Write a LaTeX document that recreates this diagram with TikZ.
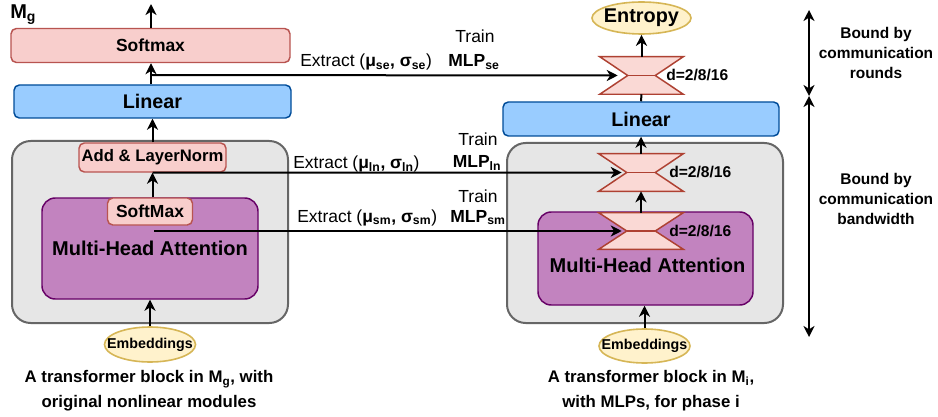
\documentclass[tikz,border=0pt]{standalone}
\usepackage{fontspec}
\setmainfont{Liberation Sans}
\usetikzlibrary{arrows.meta,calc,shapes.geometric}
\newcommand\pxu{0.75pt}
\definecolor{redfill}{HTML}{F8CECC}
\definecolor{redline}{HTML}{B85450}
\definecolor{bluefill}{HTML}{99CCFF}
\definecolor{blueline}{HTML}{004C99}
\definecolor{greyfill}{HTML}{E6E6E6}
\definecolor{greyline}{HTML}{666666}
\definecolor{purpfill}{HTML}{C283BF}
\definecolor{purpline}{HTML}{660066}
\definecolor{yelfill}{HTML}{FFF2CC}
\definecolor{yelline}{HTML}{D6B656}
\definecolor{hgfill}{HTML}{FAD9D5}
\definecolor{hgline}{HTML}{AE4132}
\newcommand\hglass[1]{%
  \draw[hg] (#1.north west) -- (#1.north east) -- ($(#1.east)+(-28,0)$) -- (#1.south east)
     -- (#1.south west) -- ($(#1.west)+(28,0)$) -- cycle;
  \draw[hg] ($(#1.west)+(28,0)$) -- ($(#1.east)+(-28,0)$);}
\tikzset{
  sz/.style 2 args={minimum width=#1*\pxu, minimum height=#2*\pxu},
  fsz/.style={font=\fontsize{#1}{#1}\selectfont\bfseries},
  basebox/.style={draw, line width=1.1pt, rounded corners=4pt, inner sep=0pt, align=center},
  redbox/.style={basebox, fill=redfill, draw=redline},
  bluebox/.style={basebox, fill=bluefill, draw=blueline},
  greybox/.style={draw=greyline, fill=greyfill, line width=1.5pt, rounded corners=14pt, inner sep=0pt},
  purpbox/.style={basebox, fill=purpfill, draw=purpline, rounded corners=10pt},
  yelell/.style={ellipse, draw=yelline, fill=yelfill, line width=1.2pt, inner sep=0pt},
  hgbox/.style={inner sep=0pt},
  hg/.style={fill=hgfill, draw=hgline, line width=1.1pt, line join=miter},
  tipk/.tip={Stealth[length=8.3pt,width=8.3pt,inset=2.6pt]},
  arr/.style={-tipk, line width=1.5pt},
  darr/.style={tipk-tipk, line width=1.5pt},
  lbl/.style={inner sep=0pt, font=\fontsize{13.1pt}{13.1pt}\selectfont},
  dlbl/.style={inner sep=0pt, anchor=west, font=\fontsize{11.7pt}{11.7pt}\selectfont\bfseries},
  capt/.style={inner sep=0pt, align=center, font=\fontsize{12.6pt}{18.75pt}\selectfont\bfseries},
  bnd/.style={inner sep=0pt, align=center, font=\fontsize{11.6pt}{15pt}\selectfont\bfseries},
}
\begin{document}
\begin{tikzpicture}[x=0.75pt, y=-0.75pt]
\path[use as bounding box, fill=white] (0,0) rectangle (938,417);

% ---------- left column ----------
\node[greybox, sz={276}{182}] (greyL) at (150,232) {};
\node[redbox, sz={279}{34}, fsz=13.1pt] (softL) at (150.5,45.5) {Softmax};
\node[bluebox, sz={277}{33}, fsz=14.8pt] (linL) at (152.5,101.5) {Linear};
\node[redbox, sz={147}{29}, fsz=12.5pt] (addL) at (152.5,157.5) {Add \& LayerNorm};
\node[purpbox, sz={216}{101}, fsz=15pt] (mhaL) at (150,248.5) {Multi-Head Attention};
\node[redbox, sz={85}{27}, fsz=13.1pt] (smL) at (150,211.5) {SoftMax};
\node[yelell, sz={91}{35}, fsz=10.7pt] (embL) at (150,344.5) {\makebox[0pt]{Embeddings}};
\node[inner sep=0pt, anchor=base west, fsz=15pt] (mg) at (10,19) {M\textsubscript{g}};
\node[capt] (capL) at (149,391) {A transformer block in M\textsubscript{g}, with\\original nonlinear modules};

\coordinate (topL) at (151,4);
\coordinate (xse) at (151,75);
\coordinate (xsm) at (154,231);

% ---------- right column ----------
\node[greybox, sz={276}{180}] (greyR) at (645,233) {};
\node[yelell, sz={99}{32}, fsz=14.9pt] (entropy) at (641.5,18) {\makebox[0pt]{Entropy}};
\node[bluebox, sz={276}{34}, fsz=14.8pt] (linR) at (641,119) {Linear};
\node[purpbox, sz={215}{93}] (mhaR) at (645.5,258.5) {};
\node[inner sep=0pt, fsz=15pt] (mhaRt) at (647.5,265) {Multi-Head Attention};
\node[yelell, sz={91}{34}, fsz=10.7pt] (embR) at (644.5,346) {\makebox[0pt]{Embeddings}};
\node[capt] (capR) at (651,391) {A transformer block in M\textsubscript{i},\\with MLPs, for phase i};

\node[hgbox, sz={83}{37}] (hse) at (641.5,75.5) {};
\node[hgbox, sz={84}{37}] (hln) at (641,172.5) {};
\node[hgbox, sz={84}{36}] (hsm) at (641,231) {};
\hglass{hse}
\hglass{hln}
\hglass{hsm}
\node[dlbl] (dse) at (666,75) {d=2/8/16};
\node[dlbl] (dln) at (669,172) {d=2/8/16};
\node[dlbl] (dsm) at (669,231) {d=2/8/16};

\coordinate (inse) at ($(hse.west)+(18,0)$);
\coordinate (inln) at ($(hln.west)+(23,0)$);
\coordinate (insm) at ($(hsm.west)+(23,0)$);

% ---------- extraction labels ----------
\node[lbl, anchor=base] (trse) at (475,43) {Train};
\node[lbl, anchor=base] (mlpse) at (474,67) {\bfseries MLP\textsubscript{se}};
\node[lbl, anchor=base west] (exse) at (300,67) {Extract (\textbf{μ\textsubscript{se}, σ\textsubscript{se}})};
\node[lbl, anchor=base] (trln) at (478,146) {Train};
\node[lbl, anchor=base] (mlpln) at (477,167) {\bfseries MLP\textsubscript{ln}};
\node[lbl, anchor=base west] (exln) at (293,168) {Extract (\textbf{μ\textsubscript{ln}, σ\textsubscript{ln}})};
\node[lbl, anchor=base] (trsm) at (478,202) {Train};
\node[lbl, anchor=base] (mlpsm) at (478,222) {\bfseries MLP\textsubscript{sm}};
\node[lbl, anchor=base west] (exsm) at (297,222) {Extract (\textbf{μ\textsubscript{sm}, σ\textsubscript{sm}})};

% ---------- bounds ----------
\coordinate (b1) at (809,10);
\coordinate (b2) at (809,96);
\coordinate (b3) at (809,337);
\draw[darr] (b1) -- (b2);
\draw[darr] (b2) -- (b3);
\node[bnd] (bndr) at (876,53) {Bound by\\communication\\rounds};
\node[bnd] (bndb) at (876,199) {Bound by\\communication\\bandwidth};

% ---------- connectors ----------
\draw[arr] (embL.north) -- (embL.north |- mhaL.south);
\draw[arr] (smL.north -| addL) -- (addL.south);
\draw[arr] (addL.north) -- (addL.north |- linL.south);
\draw[arr] (linL.north -| xse) -- (softL.south -| xse);
\draw[arr] (softL.north -| topL) -- (topL);

\draw[arr] (embR.north) -- (embR.north |- mhaR.south);
\draw[arr] (hsm.north) -- (hln.south);
\draw[arr] (hln.north) -- (linR.south);
\draw[line width=1.5pt] (linR.north) -- (hse.south);
\draw[arr] (hse.north) -- (entropy.south);

\draw[arr] (xse) -- (inse);
\draw[arr] (addL.south) -- (inln);
\draw[arr] (xsm) -- (insm);
\end{tikzpicture}
\end{document}
